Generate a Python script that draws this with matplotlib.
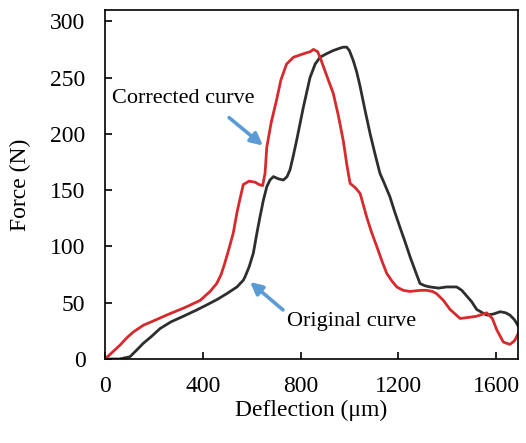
import matplotlib

matplotlib.use("Agg")
import matplotlib.pyplot as plt

plt.rcParams["font.family"] = ["Liberation Serif", "DejaVu Serif"]
plt.rcParams["mathtext.fontset"] = "stix"

# corrected curve (red)
corr_x = [0, 30, 60, 90, 116, 157, 200, 252, 330, 389, 430, 457, 475, 490, 510, 525,
          540, 550, 566, 590, 615, 630, 645, 655, 662, 680, 702, 720, 743, 771, 810,
          840, 853, 870, 880, 905, 934, 955, 975, 990, 1003, 1025, 1044, 1071, 1090,
          1112, 1135, 1153, 1175, 1194, 1220, 1248, 1290, 1316, 1340, 1357, 1385,
          1412, 1453, 1490, 1521, 1562, 1585, 1603, 1630, 1657, 1675, 1692]
corr_y = [0, 6, 12, 19, 24, 30, 34, 39, 46, 52, 60, 67, 75, 85, 100, 112,
          130, 140, 155, 158, 157, 155, 154, 165, 188, 210, 230, 248, 262, 268, 271,
          273, 275, 273, 268, 253, 236, 216, 194, 172, 156, 152, 147, 126, 113,
          100, 86, 76, 69, 64, 61, 60, 61, 61, 60, 58, 52,
          44, 36, 37, 38, 41, 36, 26, 15, 13, 16, 23]

# original curve (black)
orig_x = [0, 60, 102, 130, 157, 190, 225, 270, 321, 370, 416, 460, 498, 540, 566, 573,
          590, 607, 620, 634, 648, 662, 675, 689, 710, 730, 745, 757, 770, 784, 812,
          839, 860, 880, 905, 934, 960, 975, 989, 1000, 1016, 1030, 1044, 1065, 1085,
          1105, 1125, 1145, 1166, 1185, 1207, 1228, 1248, 1270, 1289, 1310, 1330,
          1365, 1398, 1439, 1460, 1480, 1500, 1521, 1545, 1562, 1590, 1617, 1640,
          1657, 1675, 1692]
orig_y = [0, 0, 2, 8, 14, 20, 27, 33, 38, 43, 48, 53, 58, 64, 70, 73,
          82, 94, 110, 126, 141, 153, 159, 162, 160, 159, 162, 168, 180, 194, 224,
          250, 262, 268, 271, 274, 276, 277, 277, 274, 265, 255, 242, 220, 200,
          182, 165, 155, 144, 131, 117, 104, 91, 78, 67, 65, 64,
          63, 64, 64, 61, 56, 51, 44, 41, 39, 40, 42, 41, 39, 35, 29]

x_ticks = [0, 400, 800, 1200, 1600]
y_ticks = [0, 50, 100, 150, 200, 250, 300]

fig = plt.figure(figsize=(5.26, 4.43), dpi=100)
ax = fig.add_axes([105 / 526, 1 - 359 / 443, 413 / 526, 349 / 443])

ax.plot(orig_x, orig_y, color="#2e2e2e", lw=2.0)
ax.plot(corr_x, corr_y, color="#d62a2c", lw=2.0)

arrow = dict(arrowstyle="-|>", color="#5b9bd5", lw=2.6, mutation_scale=18)
ax.annotate("", xy=(655, 188), xytext=(499, 216), arrowprops=arrow)
ax.annotate("", xy=(585, 70), xytext=(737, 42), arrowprops=arrow)
ax.text(29, 231, "Corrected curve", fontsize=16, va="center", ha="left")
ax.text(745, 33, "Original curve", fontsize=16, va="center", ha="left")

ax.set_xlim(0, 1690)
ax.set_ylim(0, 310)
ax.set_xticks(x_ticks)
ax.set_yticks(y_ticks)
ax.tick_params(direction="in", length=5, width=1.2, labelsize=17)
ax.tick_params(axis="x", pad=12)
ax.tick_params(axis="y", pad=14)
for s in ax.spines.values():
    s.set_linewidth(1.2)
ax.set_xlabel("Deflection (μm)", fontsize=17, labelpad=2)
ax.set_ylabel("Force (N)", fontsize=17, labelpad=14)

fig.savefig("out.png", dpi=100)
